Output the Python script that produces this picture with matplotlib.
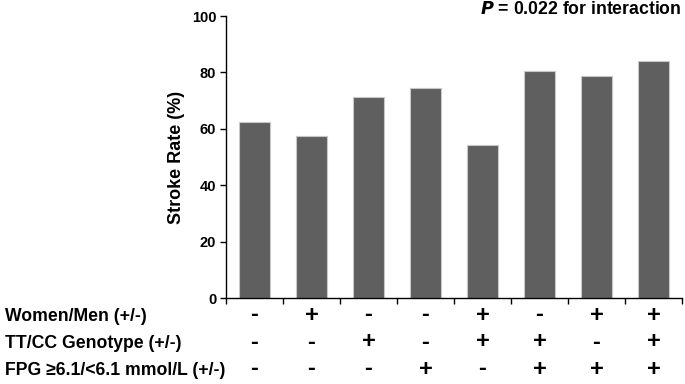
import numpy as np
import matplotlib
matplotlib.use("Agg")
import matplotlib.pyplot as plt
from matplotlib.transforms import blended_transform_factory

plt.rcParams['font.family'] = ['Liberation Sans', 'DejaVu Sans']
plt.rcParams['font.weight'] = 'bold'

# stroke rate (%) per factor combination
stroke_rate = [62.6, 57.5, 71.2, 74.6, 54.3, 80.6, 78.9, 84.0]

row_labels = ["Women/Men (+/-)", "TT/CC Genotype (+/-)", "FPG \u22656.1/<6.1 mmol/L (+/-)"]
sex_signs = ["-", "+", "-", "-", "+", "-", "+", "+"]
geno_signs = ["-", "-", "+", "-", "+", "+", "-", "+"]
fpg_signs = ["-", "-", "-", "+", "-", "+", "+", "+"]
sign_rows = [sex_signs, geno_signs, fpg_signs]

W, H = 685, 384
fig = plt.figure(figsize=(W / 100, H / 100), dpi=100)
ax = fig.add_axes([226 / W, 1 - 298.3 / H, (682 - 226) / W, (298.3 - 16) / H])

x = np.arange(len(stroke_rate))
ax.bar(x, stroke_rate, width=0.53, color="#5f5f5f", edgecolor="#c8c8c8", linewidth=0.8)

ax.set_xlim(-0.5, len(stroke_rate) - 0.5)
ax.set_ylim(0, 100)
ax.set_yticks(np.arange(0, 101, 20))
ax.set_xticks(np.arange(-0.5, len(stroke_rate), 1))
ax.set_xticklabels([])
ax.tick_params(axis='y', direction='out', length=4, width=1, labelsize=10.5, pad=3)
ax.tick_params(axis='x', direction='out', length=4, width=1)
for lab in ax.get_yticklabels():
    lab.set_fontweight('bold')
for s in ['top', 'right']:
    ax.spines[s].set_visible(False)
for s in ['left', 'bottom']:
    ax.spines[s].set_linewidth(1)

ax.set_ylabel("Stroke Rate (%)", fontsize=13, fontweight='bold', labelpad=5)

fig.text(681 / W, 1 - 14 / H, r"$\bfit{P}$ = 0.022 for interaction", ha='right', va='baseline',
         fontsize=12.7, fontweight='bold')

# factor rows under the axis
row_base = [321, 348, 375]
tr = blended_transform_factory(ax.transData, fig.transFigure)
for lbl, signs, yy in zip(row_labels, sign_rows, row_base):
    fig.text(5 / W, 1 - yy / H, lbl, ha='left', va='baseline', fontsize=12.7, fontweight='bold')
    for i, s in enumerate(signs):
        ax.text(i, 1 - (yy - 6) / H, s, transform=tr, ha='center', va='center',
                fontsize=17, fontweight='bold', clip_on=False)

fig.savefig("out.png", dpi=100)
